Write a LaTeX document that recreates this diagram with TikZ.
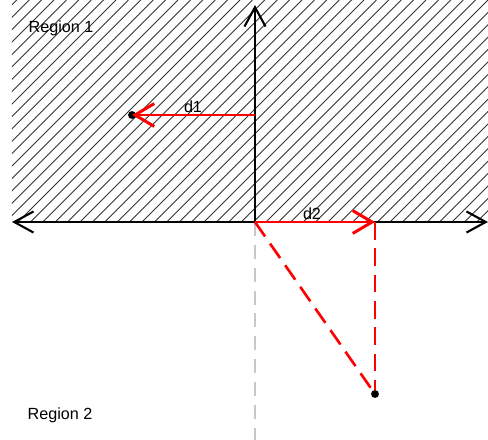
\documentclass[tikz,border=0pt]{standalone}
\usepackage{fontspec}
\setmainfont{Liberation Sans}
\usepackage{tikz}
\usetikzlibrary{arrows.meta,positioning}
\definecolor{axisred}{HTML}{FF0000}
\definecolor{guidegray}{HTML}{C8C8C8}

\begin{document}
\begin{tikzpicture}[x=0.02cm,y=-0.02cm,
every node/.style={font=\fontsize{9.2}{11}\selectfont,inner sep=1pt},
hatch/.style={line width=0.5pt,black!80},
axis/.style={line width=1.2pt,black},
axtip/.style={-{Straight Barb[length=11pt,width=12pt,line width=1.2pt]}},
vec/.style={line width=1.7pt,axisred,-{Straight Barb[length=11pt,width=13pt,line width=1.7pt]}},
dashred/.style={line width=1.5pt,axisred,dash pattern=on 10pt off 5pt},
guide/.style={line width=1.2pt,guidegray,dash pattern=on 8pt off 5pt},
pt/.style={circle,fill=black,inner sep=0pt,minimum size=4.5pt}
]
\useasboundingbox (0,0) rectangle (488,440);
\begin{scope}
\clip (12,0) rectangle (488,222);
\foreach \i in {0,...,60}
  \draw[hatch] (-230+12.4*\i,222) -- (-8+12.4*\i,0);
\end{scope}
\coordinate (o) at (255,222);
\coordinate (xl) at (12,222);
\coordinate (xr) at (488,222);
\coordinate (yt) at (255,5);
\coordinate (yb) at (255,440);
\coordinate (m1) at (255,115);
\coordinate (e2) at (375,222);
\node[pt] (p1) at (132,115) {};
\node[pt] (p2) at (375,394) {};
\node (r1) at (61,28) {Region 1};
\node (r2) at (60,415) {Region 2};
\draw[guide] (o) -- (yb);
\draw[axis,axtip] (o) -- (xl);
\draw[axis,axtip] (o) -- (xr);
\draw[axis,axtip] (o) -- (yt);
\draw[dashred] (o) -- (p2);
\draw[dashred] (e2) -- (p2);
\draw[vec] (m1) -- (p1.center);
\draw[vec] (o) -- (e2);
\node (d1) at (193,107) {d1};
\node (d2) at (312,214) {d2};
\end{tikzpicture}
\end{document}
